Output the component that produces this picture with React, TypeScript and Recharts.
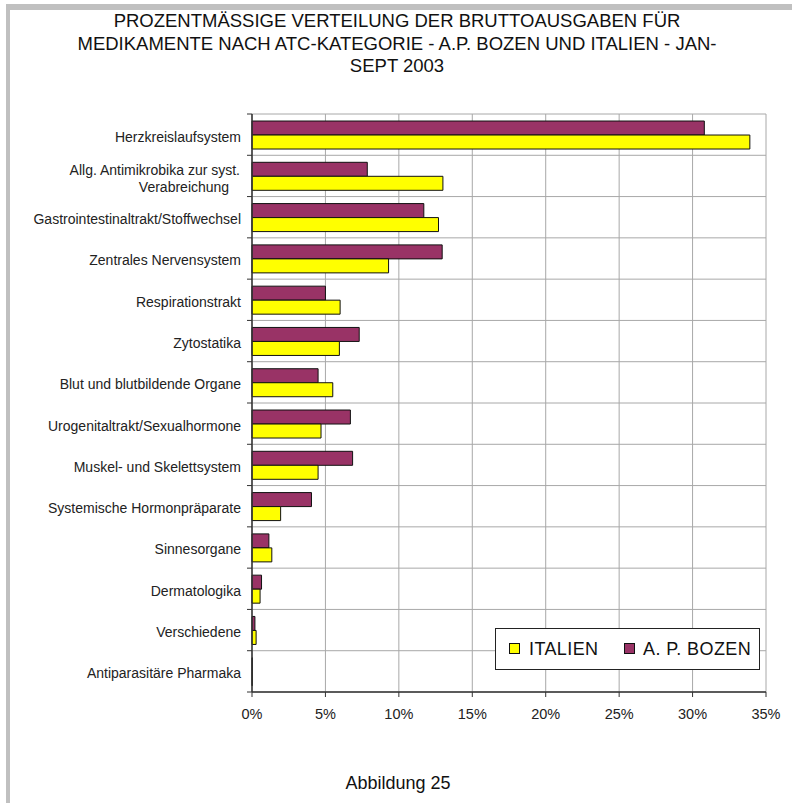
import React from "react";
import { BarChart, Bar, XAxis, YAxis, CartesianGrid } from "recharts";

const categories = [
  "Herzkreislaufsystem",
  "Allg. Antimikrobika zur syst.\nVerabreichung",
  "Gastrointestinaltrakt/Stoffwechsel",
  "Zentrales Nervensystem",
  "Respirationstrakt",
  "Zytostatika",
  "Blut und blutbildende Organe",
  "Urogenitaltrakt/Sexualhormone",
  "Muskel- und Skelettsystem",
  "Systemische Hormonpräparate",
  "Sinnesorgane",
  "Dermatologika",
  "Verschiedene",
  "Antiparasitäre Pharmaka",
];
const italien = [33.9, 13.0, 12.7, 9.3, 6.0, 5.95, 5.5, 4.7, 4.5, 1.95, 1.35, 0.55, 0.28, 0.02];
const bozen = [30.8, 7.85, 11.7, 12.95, 5.0, 7.3, 4.5, 6.7, 6.85, 4.05, 1.15, 0.65, 0.2, 0.02];
const xTicks = [0, 5, 10, 15, 20, 25, 30, 35];
const seriesNames = { italien: "ITALIEN", bozen: "A. P. BOZEN" };
const titleLines = [
  "PROZENTMÄSSIGE VERTEILUNG DER BRUTTOAUSGABEN FÜR",
  "MEDIKAMENTE NACH ATC-KATEGORIE - A.P. BOZEN UND ITALIEN - JAN-",
  "SEPT 2003",
];
const caption = "Abbildung 25";

const data = categories.map((name, i) => ({ name, italien: italien[i], bozen: bozen[i] }));

const W = 792;
const H = 803;
const PLOT_TOP = 114;
const PLOT_BOTTOM = 692;
const PLOT_LEFT = 252;
const PLOT_RIGHT = 766;
const YW = 240;
const XH = 40;
const BAND = (PLOT_BOTTOM - PLOT_TOP) / categories.length;
const FONT = '"Liberation Sans", Arial, sans-serif';
const PURPLE = "#993366";
const YELLOW = "#FFFF00";
const FRAME = "#c0c0c0";

const CatTick = (props: any) => {
  const { x, y, payload, index } = props;
  const lines = String(payload.value).split("\n");
  return (
    <g>
      <line x1={x - 5} x2={x} y1={y + BAND / 2} y2={y + BAND / 2} stroke="#333" />
      {index === 0 && <line x1={x - 5} x2={x} y1={y - BAND / 2} y2={y - BAND / 2} stroke="#333" />}
      {lines.length === 1 ? (
        <text x={x - 11} y={y + 2} dy="0.35em" textAnchor="end" fontFamily={FONT} fontSize={14} fill="#222">
          {lines[0]}
        </text>
      ) : (
        <g>
          <text x={x - 12} y={y - 6} dy="0.35em" textAnchor="end" fontFamily={FONT} fontSize={14} fill="#222">
            {lines[0]}
          </text>
          <text x={x - 68} y={y + 11} dy="0.35em" textAnchor="middle" fontFamily={FONT} fontSize={14} fill="#222">
            {lines[1]}
          </text>
        </g>
      )}
    </g>
  );
};

export default function App() {
  return (
    <div
      style={{
        position: "absolute",
        left: 0,
        top: 0,
        width: W,
        height: H,
        overflow: "hidden",
        background: "#fff",
      }}
    >
      <div
        style={{
          position: "absolute",
          left: 0,
          width: W,
          top: 10,
          textAlign: "center",
          fontFamily: FONT,
          fontSize: 18.5,
          lineHeight: "22.5px",
          color: "#111",
          whiteSpace: "nowrap",
        }}
      >
        {titleLines.map((t, i) => (
          <div key={i} style={{ marginLeft: 2 }}>{t}</div>
        ))}
      </div>
      <div style={{ position: "absolute", left: 0, top: 0 }}>
        <BarChart
          width={W}
          height={H}
          data={data}
          layout="vertical"
          margin={{ top: PLOT_TOP, right: W - PLOT_RIGHT, bottom: H - PLOT_BOTTOM - XH, left: PLOT_LEFT - YW }}
          barCategoryGap="17%"
          barGap={0}
        >
          <CartesianGrid
            stroke="#a8a8a8"
            strokeWidth={1}
            horizontalCoordinatesGenerator={({ offset }: any) =>
              Array.from({ length: categories.length + 1 }, (_, i) => offset.top + (i * offset.height) / categories.length)
            }
          />
          <XAxis
            type="number"
            domain={[0, 35]}
            ticks={xTicks}
            tickFormatter={(v: number) => `${v}%`}
            height={XH}
            axisLine={{ stroke: "#333", strokeWidth: 1.5 }}
            tickLine={{ stroke: "#333" }}
            tickSize={5}
            tickMargin={12}
            tick={{ fontFamily: FONT, fontSize: 14.5, fill: "#222" }}
            interval={0}
          />
          <YAxis
            type="category"
            dataKey="name"
            width={YW}
            axisLine={{ stroke: "#333", strokeWidth: 1.5 }}
            tickLine={false}
            tickSize={0}
            tickMargin={0}
            tick={<CatTick />}
            interval={0}
          />
          <Bar dataKey="bozen" name={seriesNames.bozen} fill={PURPLE} stroke="#111" strokeWidth={1} isAnimationActive={false} />
          <Bar dataKey="italien" name={seriesNames.italien} fill={YELLOW} stroke="#111" strokeWidth={1} isAnimationActive={false} />
        </BarChart>
      </div>
      <div
        style={{
          position: "absolute",
          left: 495,
          top: 628,
          width: 265,
          height: 42,
          boxSizing: "border-box",
          border: "1px solid #222",
          background: "#fff",
          fontFamily: FONT,
          fontSize: 18,
          letterSpacing: 0.4,
          color: "#111",
        }}
      >
        <div style={{ position: "absolute", left: 13, top: 14, width: 11, height: 11, boxSizing: "border-box", border: "1px solid #111", background: YELLOW }} />
        <div style={{ position: "absolute", left: 33, top: 9, lineHeight: "22px", whiteSpace: "nowrap" }}>{seriesNames.italien}</div>
        <div style={{ position: "absolute", left: 128, top: 14, width: 11, height: 11, boxSizing: "border-box", border: "1px solid #111", background: PURPLE }} />
        <div style={{ position: "absolute", left: 147, top: 9, lineHeight: "22px", whiteSpace: "nowrap" }}>{seriesNames.bozen}</div>
      </div>
      <div
        style={{
          position: "absolute",
          left: 0,
          width: W,
          top: 773,
          textAlign: "center",
          fontFamily: FONT,
          fontSize: 18,
          color: "#111",
          marginLeft: 2,
        }}
      >
        {caption}
      </div>
      <div style={{ position: "absolute", zIndex: 10, left: 6, top: 4, width: W - 6, height: 6, background: FRAME }} />
      <div style={{ position: "absolute", zIndex: 10, left: 6, top: 4, width: 4, height: H - 4, background: FRAME }} />
    </div>
  );
}
